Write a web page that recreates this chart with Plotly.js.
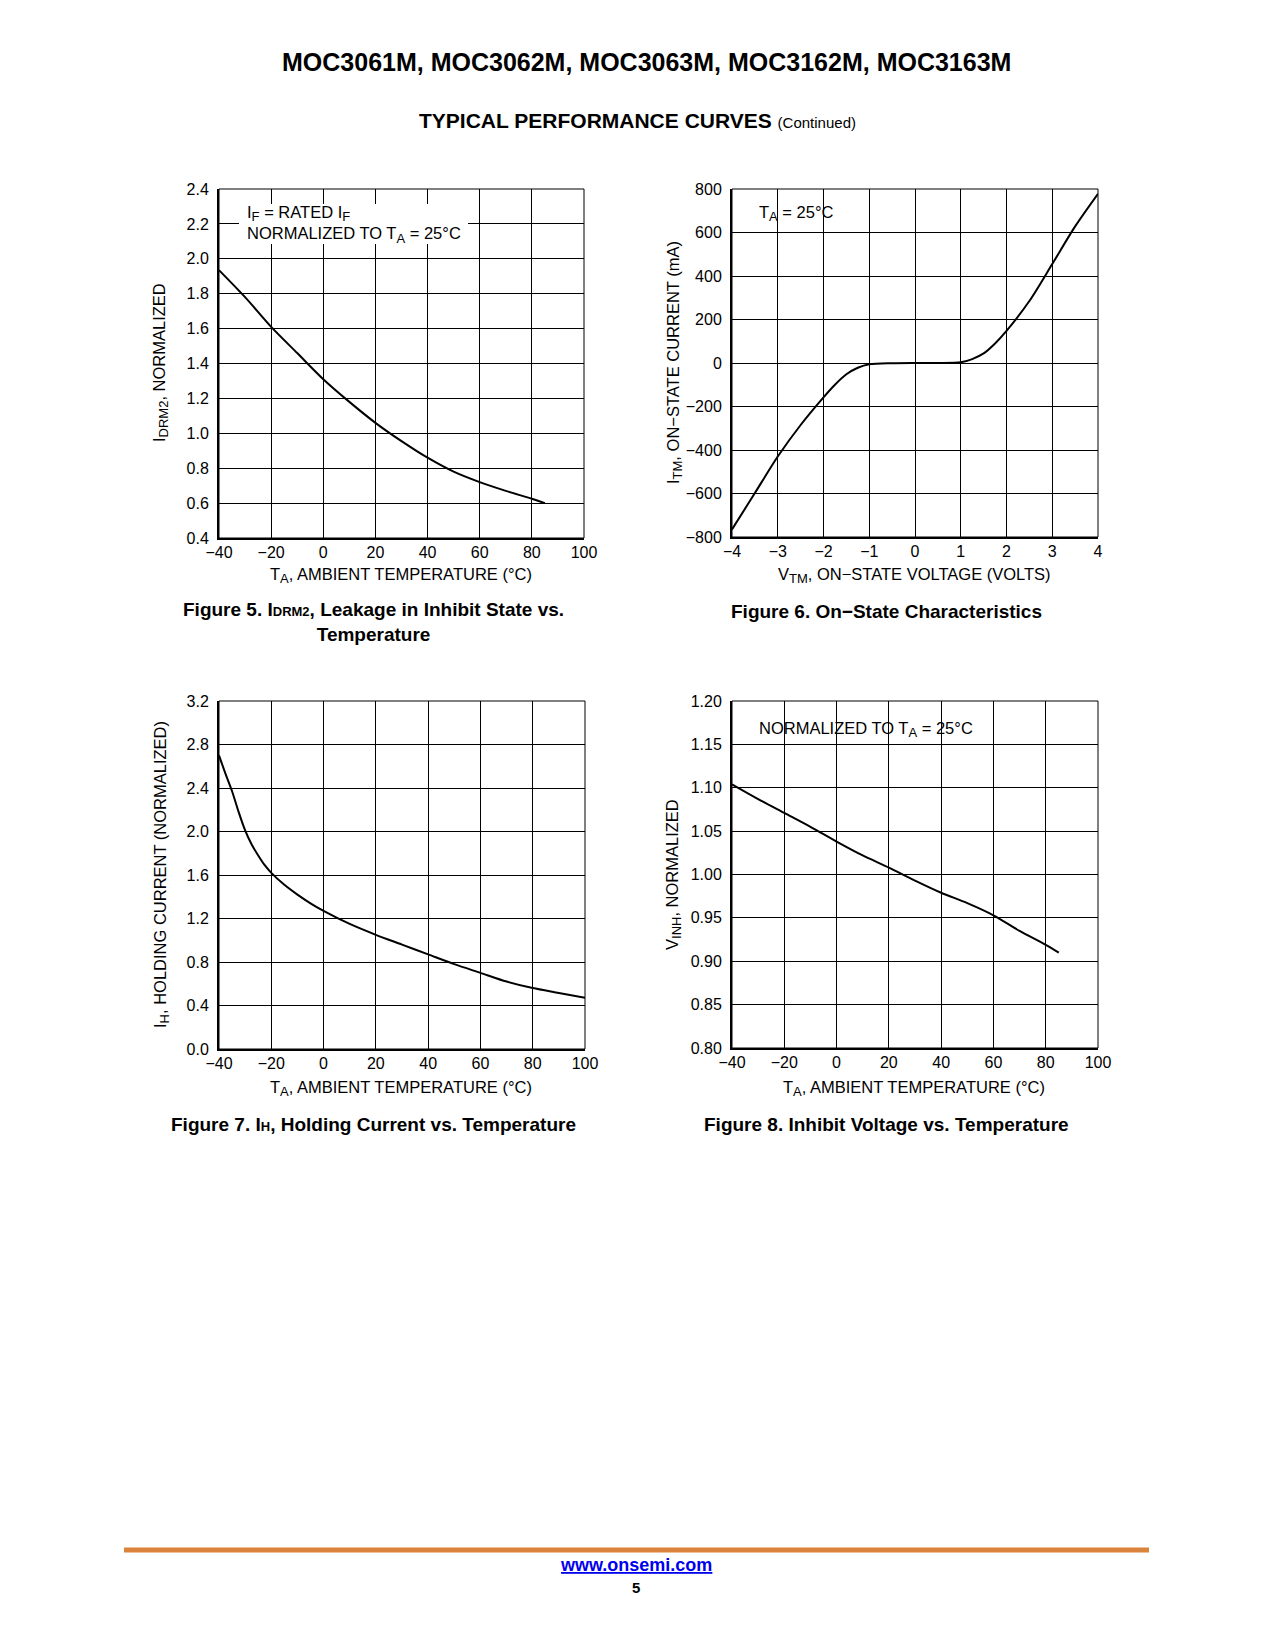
<!DOCTYPE html>
<html>
<head>
<meta charset="utf-8">
<script src="https://cdn.plot.ly/plotly-3.0.1.min.js"></script>
<style>html,body{margin:0;padding:0;background:#fff;}#page{width:1275px;height:1650px;}</style>
</head>
<body>
<div id="page"></div>
<script>
// ---- data ----
var fig5Temp = [-40,-30,-20,-10,0,10,20,30,40,50,60,70,80,85];
var fig5Idrm = [1.935,1.78,1.61,1.46,1.31,1.18,1.06,0.955,0.86,0.78,0.72,0.67,0.625,0.60];

var fig6Volt = [-4,-3.5,-3,-2.5,-2,-1.75,-1.5,-1.25,-1,-0.5,0,0.5,1,1.25,1.5,1.75,2,2.5,3,3.5,4];
var fig6Itm  = [-765,-598,-430,-285,-158,-100,-52,-22,-6,-1,0,0,3,18,44,90,148,285,455,628,778];

var fig7Temp = [-40,-37.5,-35,-32.5,-30,-27.5,-25,-22.5,-20,-15,-10,-5,0,10,20,30,40,50,60,70,80,90,100];
var fig7Ih   = [2.70,2.53,2.37,2.18,2.01,1.88,1.78,1.69,1.62,1.51,1.42,1.34,1.27,1.15,1.05,0.96,0.87,0.78,0.70,0.62,0.56,0.515,0.47];

var fig8Temp = [-40,-30,-20,-10,0,10,20,30,40,50,60,70,80,85];
var fig8Vinh = [1.104,1.087,1.071,1.055,1.038,1.022,1.008,0.993,0.979,0.967,0.953,0.935,0.919,0.910];

var pageTitle = 'MOC3061M, MOC3062M, MOC3063M, MOC3162M, MOC3163M';
var sectionTitle = 'TYPICAL PERFORMANCE CURVES';

// ---- layout helpers ----
var W = 1275, H = 1650;
function px(x){ return x / W; }
function py(y){ return 1 - y / H; }
var FONT = 'Liberation Sans, Arial, Helvetica, sans-serif';
var TICK = 16, LBL = 16.5;
function sub(t){ return '<sub><span style="font-size:13px">' + t + '</span></sub>'; }

function xax(l, r, range, dtick, anchor){
  return {domain:[px(l), px(r)], range:range, dtick:dtick, tick0:range[0], anchor:anchor,
    showgrid:true, gridcolor:'#000', gridwidth:1, showline:true, linecolor:'#000', linewidth:2,
    ticks:'', zeroline:false, ticklabelstandoff:-1,
    tickfont:{family:FONT, size:TICK, color:'#000'}, fixedrange:true};
}
function yax(t, b, range, dtick, fmt, anchor){
  return {domain:[py(b), py(t)], range:range, dtick:dtick, tick0:range[0], anchor:anchor, tickformat:fmt,
    showgrid:true, gridcolor:'#000', gridwidth:1, showline:true, linecolor:'#000', linewidth:2,
    ticks:'', zeroline:false, ticklabelstandoff:5,
    tickfont:{family:FONT, size:TICK, color:'#000'}, fixedrange:true};
}
var lineStyle = {color:'#000', width:2, shape:'spline', smoothing:0.8};

var traces = [
  {x:fig5Temp, y:fig5Idrm, xaxis:'x', yaxis:'y', mode:'lines', line:lineStyle, hoverinfo:'skip'},
  {x:fig6Volt, y:fig6Itm, xaxis:'x2', yaxis:'y2', mode:'lines', line:lineStyle, hoverinfo:'skip'},
  {x:fig7Temp, y:fig7Ih, xaxis:'x3', yaxis:'y3', mode:'lines', line:lineStyle, hoverinfo:'skip'},
  {x:fig8Temp, y:fig8Vinh, xaxis:'x4', yaxis:'y4', mode:'lines', line:lineStyle, hoverinfo:'skip'}
];

function frame(xr, yr){
  return {type:'rect', xref:xr+' domain', yref:yr+' domain', x0:0, x1:1, y0:0, y1:1,
    line:{color:'#000', width:1}, layer:'above'};
}

var ann = [];
function A(x, y, text, opts){
  var a = {xref:'paper', yref:'paper', x:px(x), y:py(y), text:text, showarrow:false,
    xanchor:'center', yanchor:'middle', font:{family:FONT, size:LBL, color:'#000'}};
  for (var k in opts) a[k] = opts[k];
  ann.push(a);
}
var CAP = {family:FONT, size:19, color:'#000'};
// headings
A(646, 62, '<b>' + pageTitle + '</b>', {font:{family:FONT, size:25, color:'#000'}});
A(637, 120, '<b>' + sectionTitle + '</b> <span style="font-size:15px">(Continued)</span>', {font:{family:FONT, size:21, color:'#000'}});
// Figure 5
A(245, 225, 'I' + sub('F') + ' = RATED I' + sub('F') + '<br>NORMALIZED TO T' + sub('A') + ' = 25°C', {xanchor:'left', align:'left'});
A(401, 575, 'T' + sub('A') + ', AMBIENT TEMPERATURE (°C)');
A(161, 363, 'I' + sub('DRM2') + ', NORMALIZED', {textangle:-90});
A(373, 622, '<b>Figure 5. I<span style="font-size:13px">DRM2</span>, Leakage in Inhibit State vs.<br>Temperature</b>', {font:CAP});
// Figure 6
A(757, 214, 'T' + sub('A') + ' = 25°C', {xanchor:'left'});
A(914, 575, 'V' + sub('TM') + ', ON\u2212STATE VOLTAGE (VOLTS)');
A(675, 363, 'I' + sub('TM') + ', ON\u2212STATE CURRENT (mA)', {textangle:-90});
A(886, 611, '<b>Figure 6. On\u2212State Characteristics</b>', {font:CAP});
// Figure 7
A(401, 1088, 'T' + sub('A') + ', AMBIENT TEMPERATURE (°C)');
A(161, 875, 'I' + sub('H') + ', HOLDING CURRENT (NORMALIZED)', {textangle:-90});
A(373, 1124, '<b>Figure 7. I<span style="font-size:13px">H</span>, Holding Current vs. Temperature</b>', {font:CAP});
// Figure 8
A(757, 730, 'NORMALIZED TO T' + sub('A') + ' = 25°C', {xanchor:'left'});
A(914, 1088, 'T' + sub('A') + ', AMBIENT TEMPERATURE (°C)');
A(673, 875, 'V' + sub('INH') + ', NORMALIZED', {textangle:-90});
A(886, 1124, '<b>Figure 8. Inhibit Voltage vs. Temperature</b>', {font:CAP});
// footer
A(636, 1565, '<b><u>www.onsemi.com</u></b>', {font:{family:FONT, size:18, color:'#0000ee'}});
A(636, 1587, '<b>5</b>', {font:{family:FONT, size:15, color:'#000'}});

var shapes = [
  frame('x','y'), frame('x2','y2'), frame('x3','y3'), frame('x4','y4'),
  {type:'rect', xref:'paper', yref:'paper', x0:px(239), x1:px(468), y0:py(244), y1:py(204),
    fillcolor:'#fff', line:{width:0}, layer:'above'},
  {type:'line', xref:'paper', yref:'paper', x0:px(124), x1:px(1149), y0:py(1550), y1:py(1550),
    line:{color:'#db833a', width:5, cap:'round'}}
];

var layout = {
  width:W, height:H, margin:{l:0, r:0, t:0, b:0}, paper_bgcolor:'#fff', plot_bgcolor:'#fff',
  showlegend:false, font:{family:FONT, color:'#000'},
  xaxis:  xax(219, 584, [-40,100], 20, 'y'),
  yaxis:  yax(189, 538, [0.4,2.4], 0.2, '.1f', 'x'),
  xaxis2: xax(732, 1098, [-4,4], 1, 'y2'),
  yaxis2: yax(189, 537, [-800,800], 200, 'd', 'x2'),
  xaxis3: xax(219, 585, [-40,100], 20, 'y3'),
  yaxis3: yax(701, 1049, [0,3.2], 0.4, '.1f', 'x3'),
  xaxis4: xax(732, 1098, [-40,100], 20, 'y4'),
  yaxis4: yax(701, 1048, [0.8,1.2], 0.05, '.2f', 'x4'),
  annotations: ann, shapes: shapes
};
Plotly.newPlot('page', traces, layout, {staticPlot:true, displayModeBar:false});
</script>
</body>
</html>
